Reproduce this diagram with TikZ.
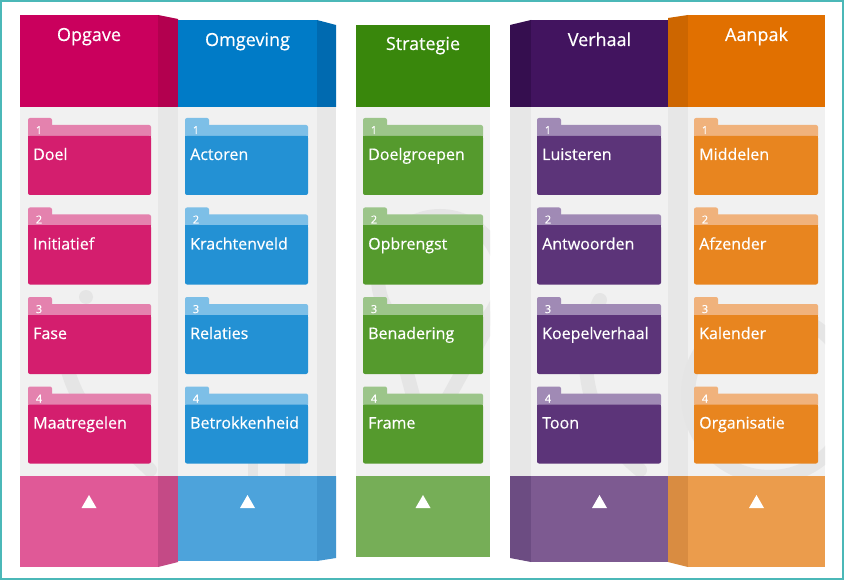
\documentclass[tikz,border=0pt]{standalone}
\usepackage{fontspec}
\setmainfont{Open Sans}[FakeBold=0.5]
\definecolor{framec}{HTML}{4BB8B8}
\definecolor{colbg}{HTML}{F1F1F1}
\definecolor{colside}{HTML}{E7E7E7}
\definecolor{wmark}{HTML}{E5E5E5}
% Opgave
\definecolor{pkH}{HTML}{CA005D}\definecolor{pkHs}{HTML}{B3004F}
\definecolor{pkF}{HTML}{D41E6E}\definecolor{pkB}{HTML}{E482AE}
\definecolor{pkL}{HTML}{E05997}\definecolor{pkLs}{HTML}{C44A86}
% Omgeving
\definecolor{blH}{HTML}{007BC7}\definecolor{blHs}{HTML}{006AB0}
\definecolor{blF}{HTML}{2391D4}\definecolor{blB}{HTML}{7DBFE7}
\definecolor{blL}{HTML}{4DA3DB}\definecolor{blLs}{HTML}{4296CF}
% Strategie
\definecolor{grH}{HTML}{39870C}
\definecolor{grF}{HTML}{559A2D}\definecolor{grB}{HTML}{9CC58A}
\definecolor{grL}{HTML}{76AE57}
% Verhaal
\definecolor{vlH}{HTML}{42145F}\definecolor{vlHs}{HTML}{350E4F}
\definecolor{vlF}{HTML}{5C3479}\definecolor{vlB}{HTML}{A08AB5}
\definecolor{vlL}{HTML}{7D5A91}\definecolor{vlLs}{HTML}{6C4C82}
% Aanpak
\definecolor{orH}{HTML}{E17000}\definecolor{orHs}{HTML}{CD6600}
\definecolor{orF}{HTML}{E8851F}\definecolor{orB}{HTML}{F0B27C}
\definecolor{orL}{HTML}{EB9C4C}\definecolor{orLs}{HTML}{D98C41}
\tikzset{
  headtxt/.style={text=white,font=\fontsize{18}{20}\selectfont,inner sep=0pt,anchor=base},
  numtxt/.style={text=white,font=\fontsize{11}{12}\selectfont,inner sep=0pt,anchor=base},
  labtxt/.style={text=white,font=\fontsize{16}{18}\selectfont,inner sep=0pt,anchor=base west},
  uptri/.style={fill=white},
  wm/.style={draw=wmark,line width=14pt,line cap=round},
}
% #1 name, #2 xl, #3 xr, #4 tab top, #5 body colour, #6 band colour, #7 number, #8 label
\newcommand\folderbox[8]{%
  \fill[#6,rounded corners=2pt] (#2,#4) rectangle (#2+24,#4+12);
  \fill[#6,rounded corners=2pt] (#2,#4+7) rectangle (#3,#4+20);
  \fill[#5,rounded corners=2pt] (#2,#4+18) rectangle (#3,#4+77);
  \fill[#5] (#2,#4+18) rectangle (#3,#4+26);
  \node[numtxt] (#1n) at (#2+11,#4+16) {#7};
  \node[labtxt] (#1) at (#2+5,#4+42) {#8};
}
% #1 centre x
\newcommand\uptriangle[1]{\fill[uptri] (#1-7.5,508) -- (#1+7.5,508) -- (#1,495) -- cycle;}
\begin{document}
\begin{tikzpicture}[x=1pt,y=-1pt]
\useasboundingbox (0,0) rectangle (848,585);
\fill[white] (0,0) rectangle (848,585);
% column bodies
\fill[colbg] (20,107) rectangle (158,476);
\fill[colside] (158,107) rectangle (178,476);
\fill[colbg] (178,107) rectangle (317,476);
\fill[colside] (317,107) rectangle (336,476);
\fill[colbg] (356,107) rectangle (490,476);
\fill[colside] (510,107) rectangle (531,476);
\fill[colbg] (531,107) rectangle (668,476);
\fill[colside] (668,107) rectangle (688,476);
\fill[colbg] (688,107) rectangle (825,476);
% faint watermark shapes in the column bodies
\begin{scope}
  \clip (20,107) rectangle (336,476) (356,107) rectangle (490,476) (510,107) rectangle (825,476);
  % Opgave figure
  \fill[wmark] (86,297) circle (7);
  \draw[wm] (60,330) .. controls (70,420) and (110,430) .. (150,470);
  % Omgeving bars
  \fill[wmark] (248,440) rectangle (258,476);
  \fill[wmark] (285,430) rectangle (300,476);
  % Strategie pin
  \draw[wm] (440,278) circle (62);
  \draw[wm] (392,318) -- (425,440);
  \draw[wm] (492,318) -- (425,440);
  % Verhaal / Aanpak rings
  \draw[wm] (600,300) .. controls (570,360) and (590,430) .. (640,470);
  \draw[wm] (770,395) circle (82);
\end{scope}
% headers
\fill[pkH] (20,15) rectangle (158,107);
\fill[pkHs] (158,15) -- (178,19) -- (178,107) -- (158,107) -- cycle;
\fill[blH] (178,20) rectangle (317,107);
\fill[blHs] (317,20) -- (336,25) -- (336,107) -- (317,107) -- cycle;
\fill[grH] (356,25) rectangle (490,107);
\fill[vlHs] (510,25) -- (531,20) -- (531,107) -- (510,107) -- cycle;
\fill[vlH] (531,20) rectangle (668,107);
\fill[orHs] (668,18) -- (688,15) -- (688,107) -- (668,107) -- cycle;
\fill[orH] (688,15) rectangle (825,107);
\node[headtxt] (hOpgave) at (89,41) {Opgave};
\node[headtxt] (hOmgeving) at (247.5,46) {Omgeving};
\node[headtxt] (hStrategie) at (423,50) {Strategie};
\node[headtxt] (hVerhaal) at (599.5,46) {Verhaal};
\node[headtxt] (hAanpak) at (756.5,41) {Aanpak};
% folders
\folderbox{a1}{28}{151}{118}{pkF}{pkB}{1}{Doel}
\folderbox{a2}{28}{151}{207.5}{pkF}{pkB}{2}{Initiatief}
\folderbox{a3}{28}{151}{297}{pkF}{pkB}{3}{Fase}
\folderbox{a4}{28}{151}{386.5}{pkF}{pkB}{4}{Maatregelen}
\folderbox{b1}{185}{308}{118}{blF}{blB}{1}{Actoren}
\folderbox{b2}{185}{308}{207.5}{blF}{blB}{2}{Krachtenveld}
\folderbox{b3}{185}{308}{297}{blF}{blB}{3}{Relaties}
\folderbox{b4}{185}{308}{386.5}{blF}{blB}{4}{Betrokkenheid}
\folderbox{c1}{363}{483}{118}{grF}{grB}{1}{Doelgroepen}
\folderbox{c2}{363}{483}{207.5}{grF}{grB}{2}{Opbrengst}
\folderbox{c3}{363}{483}{297}{grF}{grB}{3}{Benadering}
\folderbox{c4}{363}{483}{386.5}{grF}{grB}{4}{Frame}
\folderbox{d1}{537}{661}{118}{vlF}{vlB}{1}{Luisteren}
\folderbox{d2}{537}{661}{207.5}{vlF}{vlB}{2}{Antwoorden}
\folderbox{d3}{537}{661}{297}{vlF}{vlB}{3}{Koepelverhaal}
\folderbox{d4}{537}{661}{386.5}{vlF}{vlB}{4}{Toon}
\folderbox{e1}{694}{818}{118}{orF}{orB}{1}{Middelen}
\folderbox{e2}{694}{818}{207.5}{orF}{orB}{2}{Afzender}
\folderbox{e3}{694}{818}{297}{orF}{orB}{3}{Kalender}
\folderbox{e4}{694}{818}{386.5}{orF}{orB}{4}{Organisatie}
% bottom boxes
\fill[pkL] (20,476) rectangle (158,567);
\fill[pkLs] (158,476) -- (178,476) -- (178,562) -- (158,567) -- cycle;
\fill[blL] (178,476) rectangle (317,561);
\fill[blLs] (317,476) -- (336,476) -- (336,558) -- (317,561) -- cycle;
\fill[grL] (356,476) rectangle (490,557);
\fill[vlLs] (510,476) -- (531,476) -- (531,562) -- (510,558) -- cycle;
\fill[vlL] (531,476) rectangle (668,562);
\fill[orLs] (668,476) -- (688,476) -- (688,567) -- (668,562) -- cycle;
\fill[orL] (688,476) rectangle (825,567);
\uptriangle{89}
\uptriangle{247.5}
\uptriangle{423}
\uptriangle{599.5}
\uptriangle{756.5}
% frame
\draw[framec,line width=1.5pt] (1,1) rectangle (843,579);
\end{tikzpicture}
\end{document}
